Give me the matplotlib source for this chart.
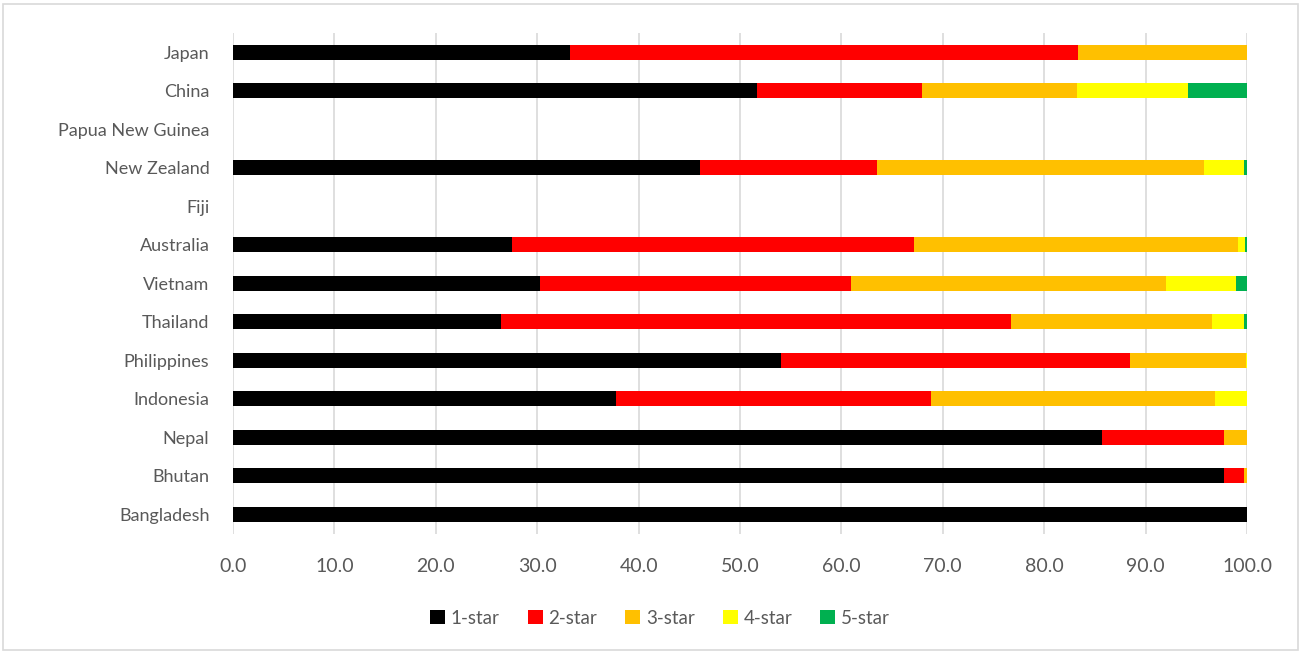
import numpy as np
import matplotlib.pyplot as plt
from matplotlib.patches import Rectangle

countries = ['Japan', 'China', 'Papua New Guinea', 'New Zealand', 'Fiji', 'Australia',
             'Vietnam', 'Thailand', 'Philippines', 'Indonesia', 'Nepal', 'Bhutan', 'Bangladesh']

# share of hotels by star rating (%), PNG and Fiji have no data
star1 = [33.2, 51.7, 0, 46.1, 0, 27.5, 30.3, 26.4, 54.0, 37.8, 85.7, 97.7, 100.0]
star2 = [50.1, 16.2, 0, 17.4, 0, 39.7, 30.6, 50.3, 34.5, 31.0, 12.0, 2.0, 0]
star3 = [16.7, 15.3, 0, 32.3, 0, 31.9, 31.1, 19.8, 11.4, 28.0, 2.3, 0.3, 0]
star4 = [0, 11.0, 0, 3.9, 0, 0.75, 6.9, 3.2, 0.1, 3.2, 0, 0, 0]
star5 = [0, 5.8, 0, 0.3, 0, 0.15, 1.1, 0.3, 0, 0, 0, 0, 0]

series = [star1, star2, star3, star4, star5]
labels = ['1-star', '2-star', '3-star', '4-star', '5-star']
colors = ['#000000', '#ff0000', '#ffc000', '#ffff00', '#00b050']

font = 'Lato'

fig = plt.figure(figsize=(13.01, 6.53), dpi=100)
ax = fig.add_axes([233 / 1301, 1 - 533.5 / 653, 1014 / 1301, 500.5 / 653])

y = np.arange(len(countries))[::-1]
left = np.zeros(len(countries))
for vals, lab, col in zip(series, labels, colors):
    vals = np.array(vals)
    ax.barh(y, vals, left=left, height=0.4, color=col, label=lab, zorder=3)
    left += vals

ax.set_xlim(0, 100)
ax.set_ylim(-0.5, len(countries) - 0.5)
ax.set_xticks(np.arange(0, 101, 10))
ax.set_xticklabels([f'{v:.1f}' for v in np.arange(0, 101, 10)])
ax.set_yticks(y)
ax.set_yticklabels(countries)
ax.grid(axis='x', color='#d9d9d9', linewidth=1.2, zorder=0)
for s in ax.spines.values():
    s.set_visible(False)
ax.tick_params(length=0, colors='#595959')
ax.tick_params(axis='x', pad=18, labelsize=14)
ax.tick_params(axis='y', pad=17, labelsize=13)
for t in ax.get_xticklabels() + ax.get_yticklabels():
    t.set_fontfamily(font)

leg = fig.legend(loc='center', bbox_to_anchor=(660 / 1301, 1 - 618 / 653), ncol=5,
                 frameon=False, handlelength=0.8, handleheight=0.8, handletextpad=0.3,
                 columnspacing=1.5, prop={'family': font, 'size': 13.5})
for t in leg.get_texts():
    t.set_color('#595959')

# outer chart border
fig.patches.append(Rectangle((3 / 1301, 3 / 653), 1295 / 1301, 646 / 653,
                             transform=fig.transFigure, fill=False,
                             edgecolor='#d9d9d9', linewidth=1.2))

fig.savefig('out.png', dpi=100)
